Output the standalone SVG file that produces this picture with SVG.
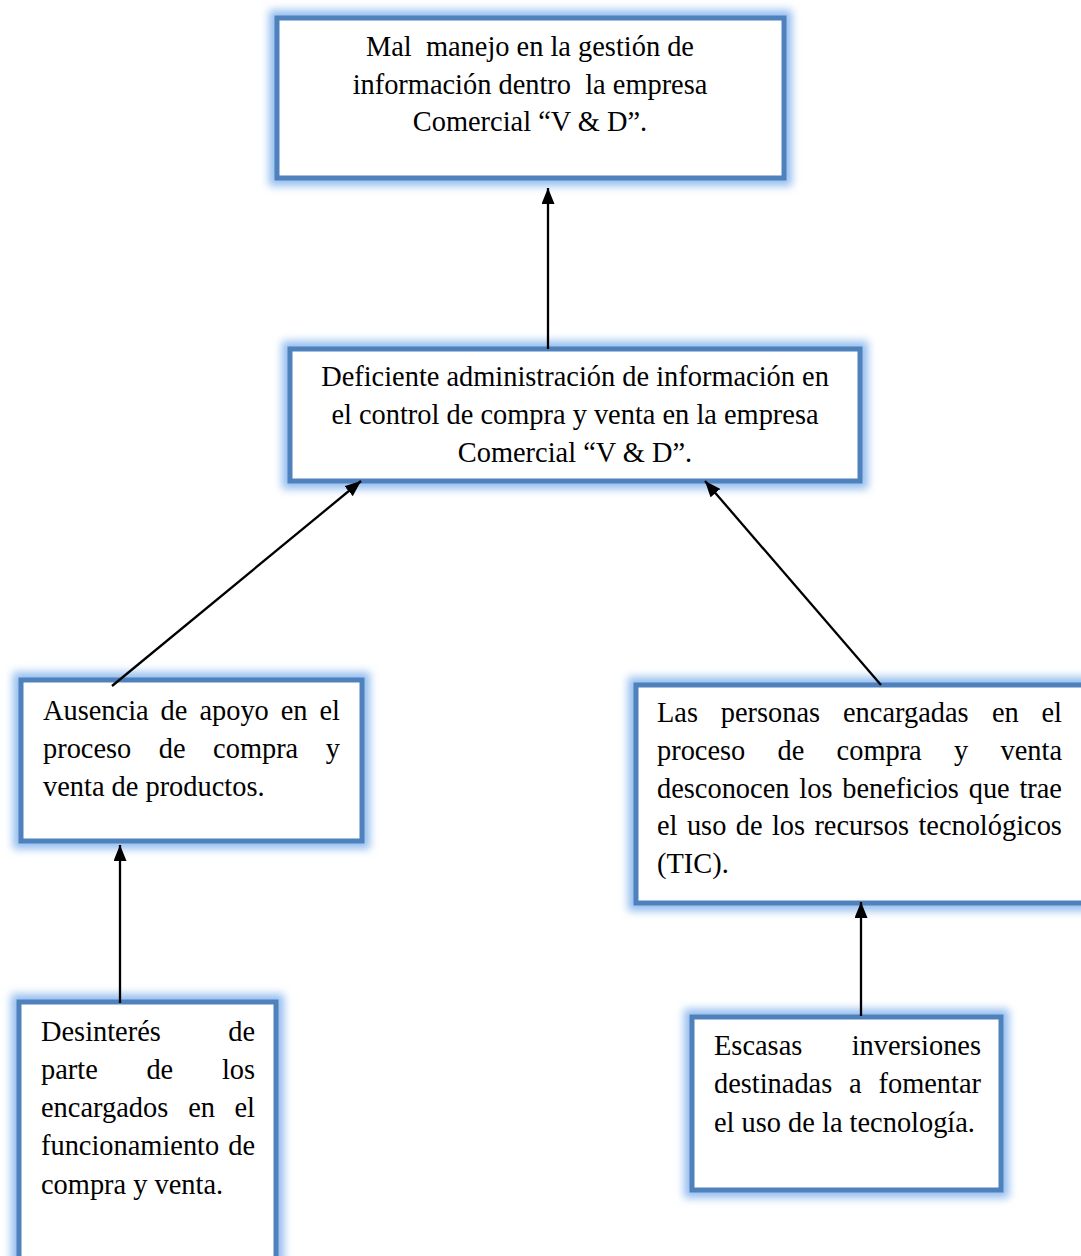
<svg xmlns="http://www.w3.org/2000/svg" width="1081" height="1256" viewBox="0 0 1081 1256">
<defs>
<filter id="glow" x="-20%" y="-20%" width="140%" height="140%">
<feGaussianBlur stdDeviation="4.5"/>
</filter>
<marker id="arr" viewBox="0 0 16 13" refX="16" refY="6.5" markerWidth="16" markerHeight="13" markerUnits="userSpaceOnUse" orient="auto">
<path d="M0,0 L16,6.5 L0,13 z" fill="#000"/>
</marker>
</defs>
<style>
.glow{fill:none;stroke:#94bdef;stroke-width:16;filter:url(#glow)}
.box{fill:#fff;stroke:#4f81bd;stroke-width:5}
.t{font-family:"Liberation Serif","Times New Roman",serif;font-size:28.4px;fill:#000;white-space:pre}
.c{text-anchor:middle}
.e{text-anchor:end}
.conn line{stroke:#000;stroke-width:2.3;marker-end:url(#arr)}
</style>
<rect width="1081" height="1256" fill="#fff"/>

<g id="node-mal-manejo">
<rect class="glow" x="277" y="18" width="507" height="160"/>
<rect class="box" x="277" y="18" width="507" height="160"/>
<text class="t c" x="530" y="56">Mal  manejo en la gestión de</text>
<text class="t c" x="530" y="94">información dentro  la empresa</text>
<text class="t c" x="530" y="131">Comercial “V &amp; D”.</text>
</g>

<g id="node-deficiente">
<rect class="glow" x="290" y="349" width="570" height="132"/>
<rect class="box" x="290" y="349" width="570" height="132"/>
<text class="t c" x="575" y="386">Deficiente administración de información en</text>
<text class="t c" x="575" y="424">el control de compra y venta en la empresa</text>
<text class="t c" x="575" y="462">Comercial “V &amp; D”.</text>
</g>

<g id="node-ausencia">
<rect class="glow" x="21" y="680" width="341" height="161"/>
<rect class="box" x="21" y="680" width="341" height="161"/>
<text class="t" y="720"><tspan x="43">Ausencia</tspan><tspan x="160.6">de</tspan><tspan x="199.4">apoyo</tspan><tspan x="280.7">en</tspan><tspan x="319.5">el</tspan></text>
<text class="t" y="758"><tspan x="43">proceso</tspan><tspan x="158.8">de</tspan><tspan x="213.1">compra</tspan><tspan x="325.8">y</tspan></text>
<text class="t" x="43" y="796">venta de productos.</text>
</g>

<g id="node-personas">
<rect class="glow" x="636" y="685" width="470" height="218"/>
<rect class="box" x="636" y="685" width="470" height="218"/>
<text class="t" y="722"><tspan x="657">Las</tspan><tspan x="720.8">personas</tspan><tspan x="843">encargadas</tspan><tspan x="992">en</tspan><tspan x="1041.5">el</tspan></text>
<text class="t" y="760"><tspan x="657">proceso</tspan><tspan x="777.5">de</tspan><tspan x="836.6">compra</tspan><tspan x="954">y</tspan><tspan x="1000.5">venta</tspan></text>
<text class="t" y="798"><tspan x="657">desconocen</tspan><tspan x="799.3">los</tspan><tspan x="842.2">beneficios</tspan><tspan x="968.7">que</tspan><tspan x="1019.4">trae</tspan></text>
<text class="t" y="835"><tspan x="657">el</tspan><tspan x="686.9">uso</tspan><tspan x="735.7">de</tspan><tspan x="771.9">los</tspan><tspan x="814.4">recursos</tspan><tspan x="918.4">tecnológicos</tspan></text>
<text class="t" x="657" y="873">(TIC).</text>
</g>

<g id="node-desinteres">
<rect class="glow" x="19" y="1002" width="257" height="300"/>
<rect class="box" x="19" y="1002" width="257" height="300"/>
<text class="t" y="1041"><tspan x="41">Desinterés</tspan><tspan x="228.2">de</tspan></text>
<text class="t" y="1079"><tspan x="41">parte</tspan><tspan x="146.4">de</tspan><tspan x="221.9">los</tspan></text>
<text class="t" y="1117"><tspan x="41">encargados</tspan><tspan x="188.2">en</tspan><tspan x="234.5">el</tspan></text>
<text class="t" y="1155"><tspan x="41">funcionamiento</tspan><tspan x="228.2">de</tspan></text>
<text class="t" x="41" y="1194">compra y venta.</text>
</g>

<g id="node-escasas">
<rect class="glow" x="692" y="1017" width="309" height="173"/>
<rect class="box" x="692" y="1017" width="309" height="173"/>
<text class="t" y="1055"><tspan x="714">Escasas</tspan><tspan x="981" text-anchor="end">inversiones</tspan></text>
<text class="t" y="1093"><tspan x="714">destinadas</tspan><tspan x="849.1">a</tspan><tspan x="878.5">fomentar</tspan></text>
<text class="t" x="714" y="1132">el uso de la tecnología.</text>
</g>

<g id="connectors" class="conn">
<line x1="548" y1="349" x2="548" y2="188"/>
<line x1="112" y1="686" x2="361" y2="481"/>
<line x1="881" y1="685" x2="705" y2="481"/>
<line x1="120" y1="1003" x2="120" y2="845"/>
<line x1="861" y1="1016" x2="861" y2="902"/>
</g>
</svg>
